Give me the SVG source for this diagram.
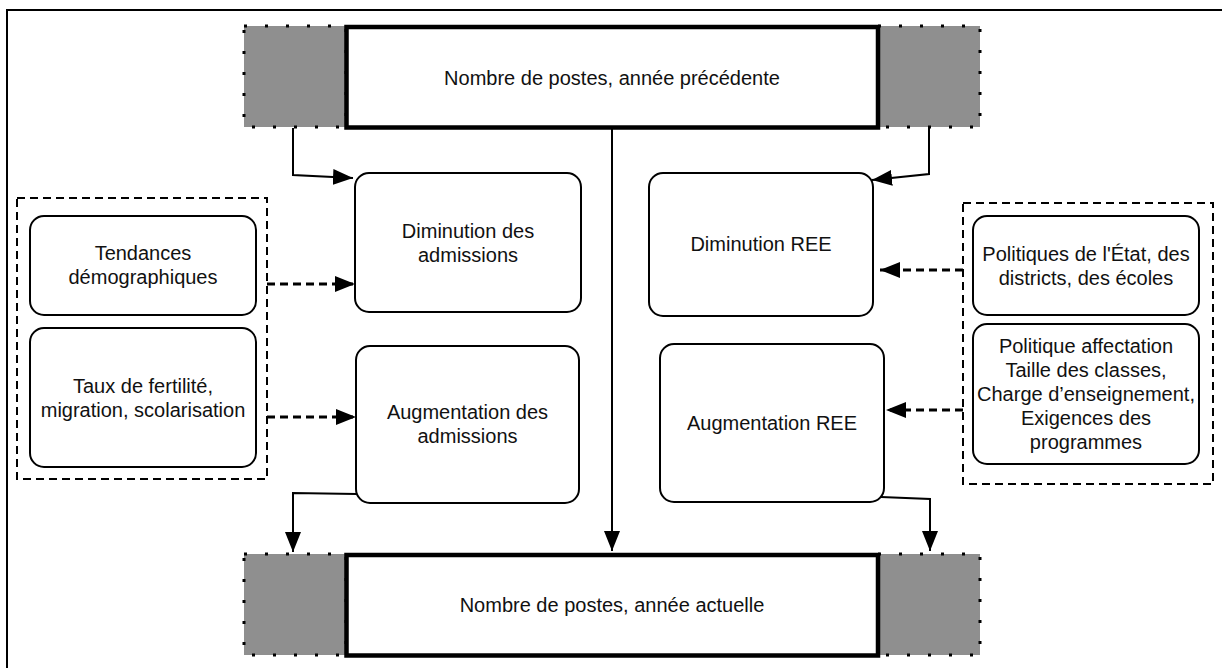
<svg xmlns="http://www.w3.org/2000/svg" width="1222" height="668" viewBox="0 0 1222 668">
  <defs>
    <marker id="arrow" markerUnits="userSpaceOnUse" markerWidth="21" markerHeight="16" refX="20" refY="8" orient="auto">
      <path d="M0,0 L20,8 L0,16 z" fill="#000"/>
    </marker>
    <style>
      text { font-family: "Liberation Sans", Arial, Helvetica, sans-serif; font-size: 20px; fill: #111; text-anchor: middle; }
      .frame { fill: none; stroke: #000; stroke-width: 2; }
      .main { fill: #fff; stroke: #000; stroke-width: 4.5; }
      .shade { fill: #8f8f8f; stroke: #000; stroke-width: 3; stroke-dasharray: 3 18; }
      .node { fill: #fff; stroke: #000; stroke-width: 2; }
      .group { fill: none; stroke: #000; stroke-width: 2; stroke-dasharray: 8 5; }
      .link { fill: none; stroke: #000; stroke-width: 2; marker-end: url(#arrow); }
      .dlink { fill: none; stroke: #000; stroke-width: 3; stroke-dasharray: 8 5; marker-end: url(#arrow); }
    </style>
  </defs>

  <rect width="1222" height="668" fill="#fff"/>
  <path class="frame" d="M7,668 L7,10 L1222,10"/>

  <!-- dashed groupings -->
  <rect class="group" x="17" y="198" width="250" height="281"/>
  <rect class="group" x="963" y="203" width="250" height="281"/>

  <!-- connectors -->
  <g id="connectors">
    <polyline class="link" points="293,128 293,175 353,178"/>
    <polyline class="link" points="929,128 929,174 872,180"/>
    <line class="link" x1="612" y1="128" x2="612" y2="551"/>
    <polyline class="link" points="357,494 293,493 293,552"/>
    <polyline class="link" points="881,497 930,499 930,551"/>
    <line class="dlink" x1="267" y1="284" x2="355" y2="284"/>
    <line class="dlink" x1="267" y1="417" x2="356" y2="417"/>
    <line class="dlink" x1="963" y1="270" x2="880" y2="270"/>
    <line class="dlink" x1="963" y1="410" x2="886" y2="410"/>
  </g>

  <g id="previous-year">
    <rect class="shade" x="244" y="26" width="102" height="101"/>
    <rect class="shade" x="878" y="26" width="102" height="101"/>
    <rect class="main" x="346.5" y="27" width="531.5" height="100.5"/>
    <text x="612" y="85">Nombre de postes, année précédente</text>
  </g>

  <g id="current-year">
    <rect class="shade" x="244" y="554" width="102" height="101"/>
    <rect class="shade" x="878" y="554" width="102" height="101"/>
    <rect class="main" x="346.5" y="555" width="531.5" height="100.5"/>
    <text x="612" y="612">Nombre de postes, année actuelle</text>
  </g>

  <g id="trends">
    <rect class="node" x="30" y="216" width="226" height="99" rx="14"/>
    <text x="143" y="260">Tendances</text>
    <text x="143" y="284">démographiques</text>
  </g>

  <g id="rates">
    <rect class="node" x="30" y="328" width="226" height="139" rx="14"/>
    <text x="143" y="393">Taux de fertilité,</text>
    <text x="143" y="417">migration, scolarisation</text>
  </g>

  <g id="admissions-down">
    <rect class="node" x="355" y="173" width="226" height="139" rx="14"/>
    <text x="468" y="238">Diminution des</text>
    <text x="468" y="262">admissions</text>
  </g>

  <g id="admissions-up">
    <rect class="node" x="356" y="346" width="223" height="157" rx="14"/>
    <text x="467.5" y="419">Augmentation des</text>
    <text x="467.5" y="443">admissions</text>
  </g>

  <g id="ree-down">
    <rect class="node" x="649" y="173" width="224" height="143" rx="14"/>
    <text x="761" y="251">Diminution REE</text>
  </g>

  <g id="ree-up">
    <rect class="node" x="660" y="344" width="224" height="158" rx="14"/>
    <text x="772" y="430">Augmentation REE</text>
  </g>

  <g id="policies">
    <rect class="node" x="973" y="216" width="226" height="99" rx="14"/>
    <text x="1086" y="261">Politiques de l'État, des</text>
    <text x="1086" y="285">districts, des écoles</text>
  </g>

  <g id="assignment">
    <rect class="node" x="973" y="324" width="226" height="140" rx="14"/>
    <text x="1086" y="353">Politique affectation</text>
    <text x="1086" y="377">Taille des classes,</text>
    <text x="1086" y="401">Charge d’enseignement,</text>
    <text x="1086" y="425">Exigences des</text>
    <text x="1086" y="449">programmes</text>
  </g>
</svg>
